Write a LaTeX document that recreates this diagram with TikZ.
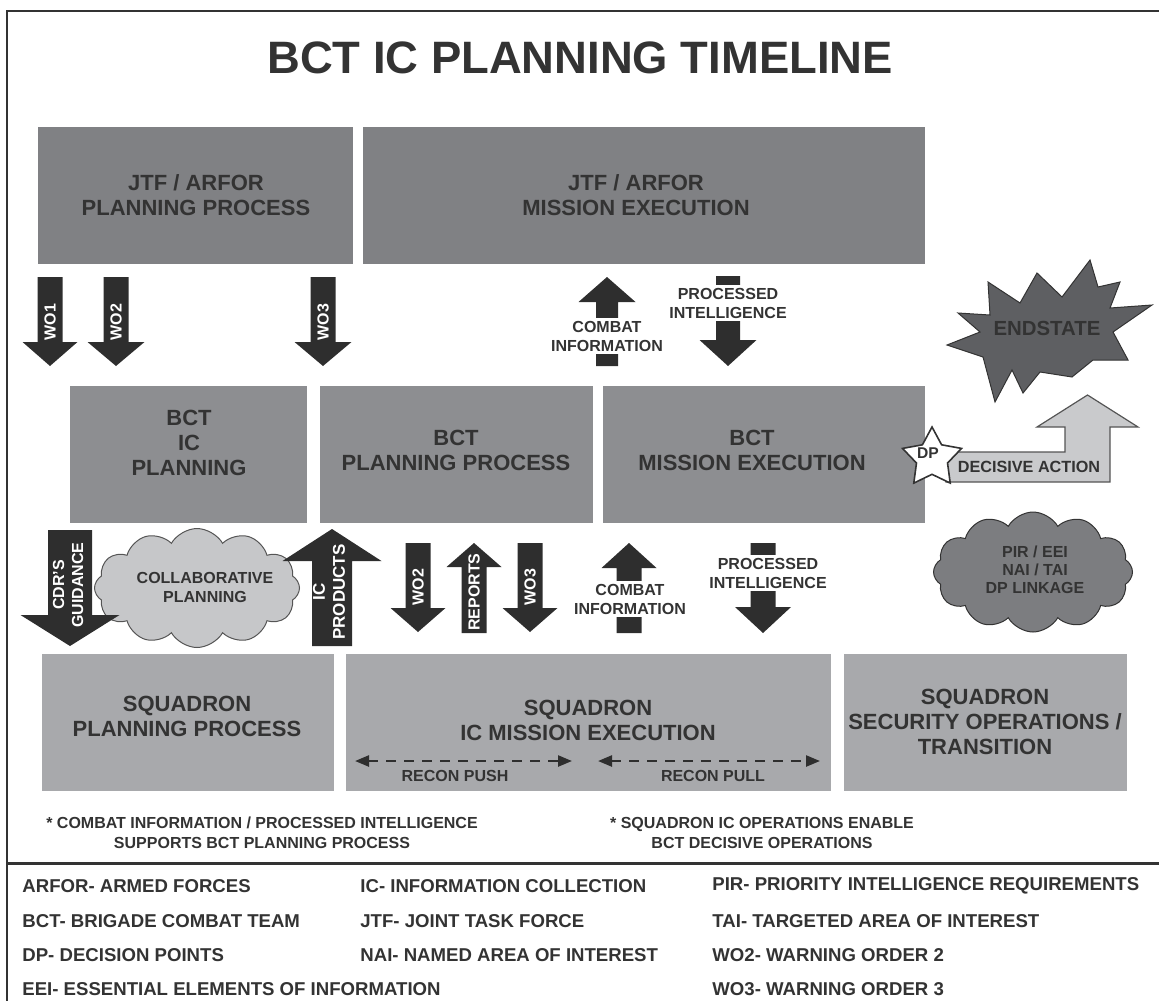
\documentclass[tikz,border=0pt]{standalone}
\usepackage{fontspec}
\setmainfont{Liberation Sans}
\usetikzlibrary{shapes.symbols,shapes.geometric,arrows.meta}
\definecolor{txt}{HTML}{333333}
\definecolor{boxtop}{HTML}{808184}
\definecolor{boxmid}{HTML}{8D8E91}
\definecolor{boxbot}{HTML}{A8A9AC}
\definecolor{arr}{HTML}{2E2E2E}
\definecolor{cloudlight}{HTML}{C6C7C9}
\definecolor{clouddark}{HTML}{7C7D80}
\definecolor{burst}{HTML}{5E5F62}
\definecolor{decis}{HTML}{C9CACC}
\definecolor{edge}{HTML}{555555}
\newcommand{\myfs}[2]{\fontsize{#1}{#2}\selectfont\bfseries}
% cx, tail y, head-base y, tip y, half shaft width, half head width
\newcommand{\blockarrow}[6]{%
  \fill[arr] ({#1-#5},#2) -- ({#1+#5},#2) -- ({#1+#5},#3) -- ({#1+#6},#3) -- (#1,#4) -- ({#1-#6},#3) -- ({#1-#5},#3) -- cycle;}
\begin{document}
\begin{tikzpicture}[x=0.5pt,y=-0.5pt,
  boxt/.style={fill=boxtop,inner sep=0pt,outer sep=0pt,minimum height=68.5pt},
  boxm/.style={fill=boxmid,inner sep=0pt,outer sep=0pt,minimum height=68.5pt},
  boxb/.style={fill=boxbot,inner sep=0pt,outer sep=0pt,minimum height=68.5pt},
  boxlabel/.style={font=\myfs{11}{12.5},text=txt,align=center},
  arrlabel/.style={font=\myfs{8}{9.5},text=white,align=center,rotate=90,inner sep=0pt},
  infolabel/.style={font=\myfs{8}{9.5},text=txt,align=center,fill=white,inner sep=1.2pt},
  notelabel/.style={font=\myfs{8}{10},text=txt,align=center},
  legendlabel/.style={font=\myfs{9.3}{11},text=txt,anchor=west,inner sep=0pt},
  recon/.style={draw=arr,line width=1.2pt,dash pattern=on 5pt off 4pt,
    {Triangle[length=7pt,width=5.5pt]}-{Triangle[length=7pt,width=5.5pt]}},
  cloudbox/.style={cloud,cloud puffs=12,cloud puff arc=120,cloud ignores aspect,inner sep=0pt}
]
\useasboundingbox (0,0) rectangle (1159,1000);
\clip (0,0) rectangle (1159,1000);

% frame
\draw[line width=1pt,draw=txt] (1170,11) -- (7,11) -- (7,1010);
\draw[line width=1.5pt,draw=txt] (7,863) -- (1170,863);

% title
\node[font=\myfs{22.7}{26},text=txt] (title) at (580,58) {BCT IC PLANNING TIMELINE};

% boxes
\node[boxt,minimum width=157.5pt] (jtfplan) at (195.5,195.5) {};
\node[boxt,minimum width=281pt] (jtfexec) at (644,195.5) {};
\node[boxm,minimum width=118.5pt] (bctic) at (188.5,454.5) {};
\node[boxm,minimum width=136.5pt] (bctplan) at (456.5,454.5) {};
\node[boxm,minimum width=161pt] (bctexec) at (764,454.5) {};
\node[boxb,minimum width=146pt] (sqplan) at (188,722.5) {};
\node[boxb,minimum width=242.5pt] (sqic) at (588.5,722.5) {};
\node[boxb,minimum width=141.5pt] (sqsec) at (985.5,722.5) {};

\node[boxlabel] (jtfplanT) at (196,195) {JTF / ARFOR\\PLANNING PROCESS};
\node[boxlabel] (jtfexecT) at (636,195) {JTF / ARFOR\\MISSION EXECUTION};
\node[boxlabel] (bcticT) at (189,443) {BCT\\IC\\PLANNING};
\node[boxlabel] (bctplanT) at (456,450) {BCT\\PLANNING PROCESS};
\node[boxlabel] (bctexecT) at (752,450) {BCT\\MISSION EXECUTION};
\node[boxlabel] (sqplanT) at (187,716) {SQUADRON\\PLANNING PROCESS};
\node[boxlabel] (sqicT) at (588,720) {SQUADRON\\IC MISSION EXECUTION};
\node[boxlabel] (sqsecT) at (985,722) {SQUADRON\\SECURITY OPERATIONS /\\TRANSITION};

% top arrows
\blockarrow{50}{277}{342}{366}{12.5}{27.5}
\blockarrow{116}{277}{342}{366}{12.5}{28.5}
\blockarrow{323}{277}{342}{366}{12.5}{28.5}
\node[arrlabel] (wo1) at (50,322) {WO1};
\node[arrlabel] (wo2a) at (116,322) {WO2};
\node[arrlabel] (wo3a) at (323,322) {WO3};

\blockarrow{607}{366}{302}{277}{11}{28.5}
\node[infolabel] (ci1) at (607,336) {COMBAT\\INFORMATION};
\blockarrow{728}{276}{340}{366}{12}{28.5}
\node[infolabel] (pi1) at (728,303) {PROCESSED\\INTELLIGENCE};

% lower arrows
\node[cloudbox,fill=cloudlight,draw=edge,line width=0.5pt,minimum width=102.5pt,minimum height=59.5pt] (collab) at (197,588) {};
\node[font=\myfs{8}{9.5},text=txt,align=center] (collabT) at (205,587) {COLLABORATIVE\\PLANNING};

\blockarrow{70}{530}{615}{646}{22}{49.5}
\node[arrlabel] (cdr) at (68,585) {CDR'S\\GUIDANCE};
\blockarrow{332}{646}{561}{529}{20}{49.5}
\node[arrlabel,font=\myfs{8.5}{10}] (icp) at (329,592) {IC\\PRODUCTS};

\blockarrow{418}{543}{608}{632}{12.5}{27.5}
\node[arrlabel] (wo2b) at (418,587) {WO2};
\blockarrow{474}{633}{567}{543}{12.5}{27.5}
\node[arrlabel] (rep) at (474,592) {REPORTS};
\blockarrow{530}{543}{608}{632}{12.5}{27.5}
\node[arrlabel] (wo3b) at (530,587) {WO3};

\blockarrow{629}{633}{568}{543}{12.5}{27.5}
\node[infolabel] (ci2) at (630,599) {COMBAT\\INFORMATION};
\blockarrow{763}{543}{607}{633}{12.5}{28}
\node[infolabel] (pi2) at (768,573) {PROCESSED\\INTELLIGENCE};

% PIR cloud
\node[cloudbox,fill=clouddark,draw=txt,line width=0.5pt,minimum width=99.5pt,minimum height=60pt] (pir) at (1033,572) {};
\node[font=\myfs{8}{9},text=txt,align=center] (pirT) at (1035,570) {PIR / EEI\\NAI / TAI\\DP LINKAGE};

% endstate burst
\filldraw[fill=burst,draw=txt,line width=0.5pt]
  (1090,260) -- (1098,287) -- (1120,282) -- (1110,308) -- (1152,305) -- (1113,332)
  -- (1128,360) -- (1093,360) -- (1072,377) -- (1040,372) -- (1023,393) -- (1012,370)
  -- (995,402) -- (983,357) -- (947,345) -- (980,332) -- (958,313) -- (990,315)
  -- (988,282) -- (1020,303) -- (1037,273) -- (1062,297) -- cycle;
\node[font=\myfs{10.2}{12},text=txt] (endstate) at (1047,328) {ENDSTATE};

% decisive action arrow
\filldraw[fill=decis,draw=edge,line width=0.6pt]
  (946,452) -- (1065,452) -- (1065,427) -- (1037,427) -- (1087.5,395) -- (1138,427)
  -- (1110,427) -- (1110,482) -- (946,482) -- cycle;
\node[font=\myfs{8.1}{9.5},text=txt] (decisive) at (1029,467) {DECISIVE ACTION};
\node[star,star points=5,star point ratio=1.9,minimum size=31pt,inner sep=0pt,
  fill=white,draw=txt,line width=0.8pt] (dp) at (932,458) {};
\node[font=\myfs{7.8}{9},text=txt] (dpT) at (928,453) {DP};

% recon arrows
\coordinate (push1) at (355,761);
\coordinate (push2) at (572,761);
\coordinate (pull1) at (598,761);
\coordinate (pull2) at (820,761);
\draw[recon] (push1) -- (push2);
\draw[recon] (pull1) -- (pull2);
\node[font=\myfs{8}{9.5},text=txt] (pushT) at (455,776) {RECON PUSH};
\node[font=\myfs{8}{9.5},text=txt] (pullT) at (713,776) {RECON PULL};

% notes
\node[notelabel] (note1) at (262,833) {* COMBAT INFORMATION / PROCESSED INTELLIGENCE\\SUPPORTS BCT PLANNING PROCESS};
\node[notelabel] (note2) at (762,833) {* SQUADRON IC OPERATIONS ENABLE\\BCT DECISIVE OPERATIONS};

% legend
\node[legendlabel] (l11) at (22,886) {ARFOR- ARMED FORCES};
\node[legendlabel] (l12) at (22,921) {BCT- BRIGADE COMBAT TEAM};
\node[legendlabel] (l13) at (22,955) {DP- DECISION POINTS};
\node[legendlabel] (l14) at (22,989) {EEI- ESSENTIAL ELEMENTS OF INFORMATION};
\node[legendlabel] (l21) at (360,886) {IC- INFORMATION COLLECTION};
\node[legendlabel] (l22) at (360,921) {JTF- JOINT TASK FORCE};
\node[legendlabel] (l23) at (360,955) {NAI- NAMED AREA OF INTEREST};
\node[legendlabel] (l31) at (712,886) {PIR- PRIORITY INTELLIGENCE REQUIREMENTS};
\node[legendlabel] (l32) at (712,921) {TAI- TARGETED AREA OF INTEREST};
\node[legendlabel] (l33) at (712,955) {WO2- WARNING ORDER 2};
\node[legendlabel] (l34) at (712,989) {WO3- WARNING ORDER 3};
\end{tikzpicture}
\end{document}
